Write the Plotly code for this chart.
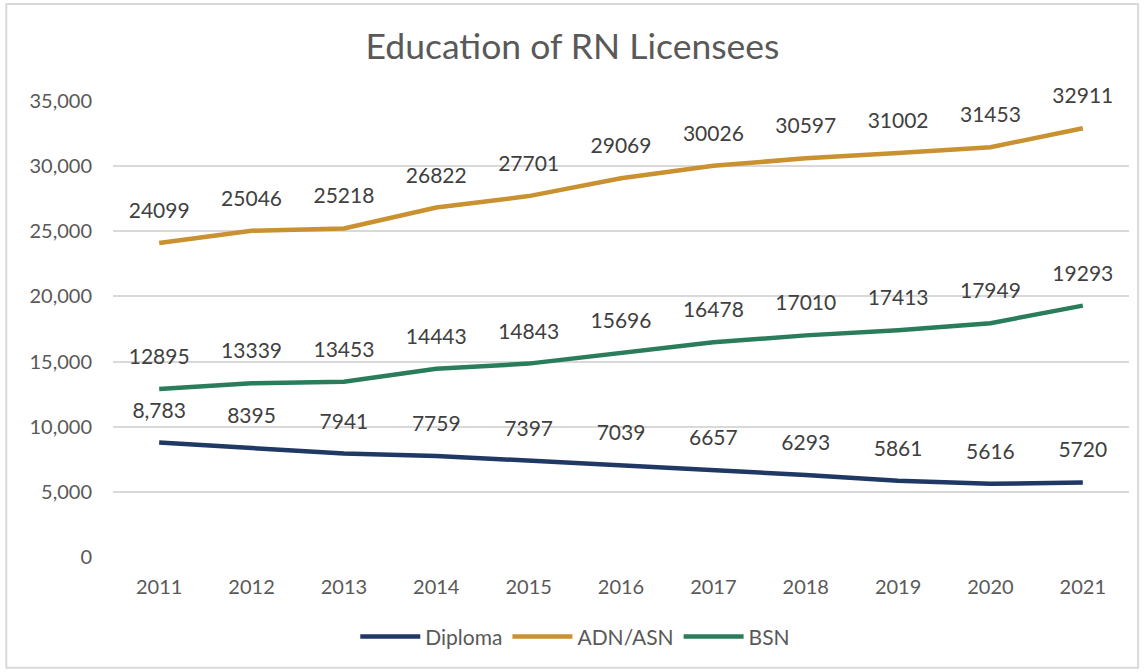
import plotly.graph_objects as go

years = ["2011", "2012", "2013", "2014", "2015", "2016", "2017", "2018", "2019", "2020", "2021"]
diploma = [8783, 8395, 7941, 7759, 7397, 7039, 6657, 6293, 5861, 5616, 5720]
adn = [24099, 25046, 25218, 26822, 27701, 29069, 30026, 30597, 31002, 31453, 32911]
bsn = [12895, 13339, 13453, 14443, 14843, 15696, 16478, 17010, 17413, 17949, 19293]
diploma_labels = ["8,783"] + [str(v) for v in diploma[1:]]
y_ticks = [0, 5000, 10000, 15000, 20000, 25000, 30000, 35000]
y_tick_text = ["0", "5,000", "10,000", "15,000", "20,000", "25,000", "30,000", "35,000"]

font_family = "Lato, 'Noto Sans', sans-serif"
label_font = dict(family=font_family, size=21, color="#404040")

fig = go.Figure()
series = [
    ("Diploma", diploma, diploma_labels, "#1F3864"),
    ("ADN/ASN", adn, [str(v) for v in adn], "#C9912F"),
    ("BSN", bsn, [str(v) for v in bsn], "#2A7D5A"),
]
for name, vals, labels, color in series:
    fig.add_trace(go.Scatter(x=years, y=vals, name=name, mode="lines+markers+text",
                             line=dict(color=color, width=4.5),
                             marker=dict(size=30, color="rgba(0,0,0,0)",
                                         line=dict(width=0, color="rgba(0,0,0,0)")),
                             text=labels, textposition="top center", textfont=label_font,
                             cliponaxis=False))

fig.update_layout(
    width=1145, height=672,
    margin=dict(l=113, r=16, t=101, b=115),
    paper_bgcolor="white", plot_bgcolor="white",
    font=dict(family=font_family, color="#595959", size=20),
    title=dict(text="Education of RN Licensees", x=0.5, xanchor="center", y=0.93, yanchor="middle",
               font=dict(family=font_family, size=35.5, color="#595959")),
    xaxis=dict(range=[-0.5, 10.5], showgrid=False, showline=False, ticks="", ticklabelstandoff=16,
               tickfont=dict(size=20, color="#595959"), automargin=False),
    yaxis=dict(range=[0, 35000], tickvals=y_ticks, ticktext=y_tick_text, showgrid=True,
               gridcolor="#D9D9D9", gridwidth=1.5, zeroline=False, showline=False,
               ticks="", ticklabelstandoff=20, tickfont=dict(size=20, color="#595959"),
               automargin=False),
    legend=dict(orientation="h", x=0.455, xanchor="center", y=-0.175, yanchor="middle",
                font=dict(size=21, color="#595959"), itemwidth=60),
    showlegend=True,
)
fig.add_shape(type="rect", xref="paper", yref="paper", x0=-0.105, x1=1.009, y0=-0.243, y1=1.2127,
              line=dict(color="#D9D9D9", width=2), fillcolor="rgba(0,0,0,0)", layer="above")

fig.write_html("out.html", config={"displayModeBar": False},
               post_script="document.body.style.margin='0';document.body.style.padding='0';")
